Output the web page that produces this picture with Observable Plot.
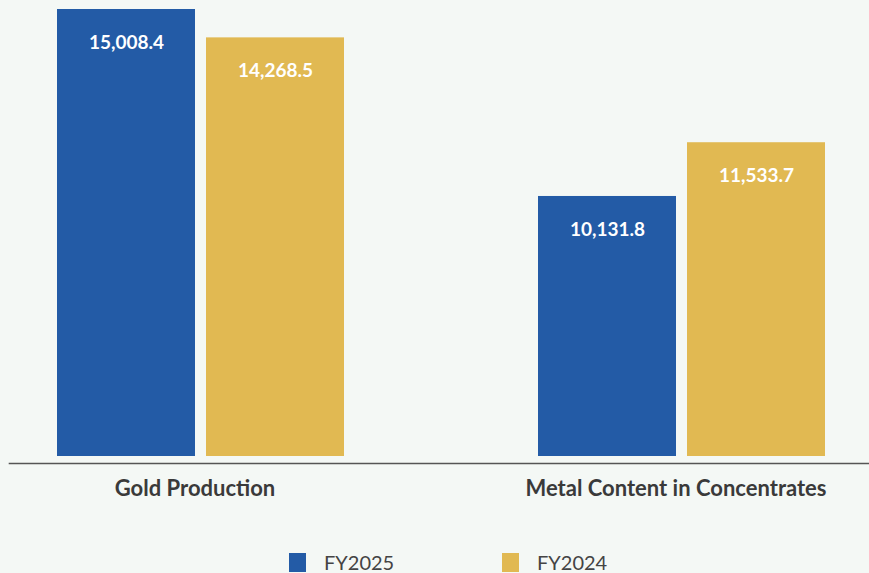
<!DOCTYPE html>
<html><head><meta charset="utf-8">
<script src="https://cdn.jsdelivr.net/npm/d3@7"></script>
<script src="https://cdn.jsdelivr.net/npm/@observablehq/plot@0.6"></script>
<style>
body{margin:0;background:#f4f8f5;font-family:Lato,sans-serif;overflow:hidden;}
#legend{display:flex;margin-left:289px;height:44px;align-items:center}
.item{display:flex;align-items:center;width:213px;font-size:20px;line-height:20px;color:#444}
.sw{width:17px;height:19px;margin-right:18px}
</style></head><body>
<div id="chart"></div>
<div id="legend"></div>
<script>
const categories = ["Gold Production", "Metal Content in Concentrates"];
const series = ["FY2025", "FY2024"];
const fy2025 = [15008.4, 10131.8];
const fy2024 = [14268.5, 11533.7];
const colors = ["#235ba6", "#e1b952"];
const yFloor = 3350;

const data = categories.flatMap((c, i) => [
  {category: c, year: series[0], value: fy2025[i]},
  {category: c, year: series[1], value: fy2024[i]}
]);
const fmt = d3.format(",.1f");

const plot = Plot.plot({
  width: 869, height: 540,
  marginTop: 9, marginBottom: 84, marginLeft: 9, marginRight: 0,
  style: {background: "transparent", fontFamily: "Lato, sans-serif"},
  fx: {domain: categories, paddingInner: 0.4, paddingOuter: 0.0927, align: 0.515, label: null, axis: null},
  x: {domain: series, paddingInner: 0.073, paddingOuter: 0, axis: null},
  y: {domain: [yFloor, d3.max([...fy2025, ...fy2024])], axis: null},
  color: {domain: series, range: colors},
  marks: [
    Plot.barY(data, {fx: "category", x: "year", y1: yFloor, y2: "value", fill: "year"}),
    Plot.text(data, {fx: "category", x: "year", y: "value", text: d => fmt(d.value), dy: 33,
      fill: "white", fontWeight: "bold", fontSize: 19}),
    Plot.axisFx({anchor: "bottom", tickSize: 0, tickPadding: 24, fontSize: 22, fontWeight: "bold",
      fill: "#3a3a3a", label: null, dx: -6}),
    Plot.frame({anchor: "bottom", facet: "super", dy: 7, insetLeft: -47, insetRight: -43,
      stroke: "#555", strokeWidth: 1.6})
  ]
});
document.getElementById("chart").append(plot);

const legend = document.getElementById("legend");
series.forEach((s, i) => {
  const item = document.createElement("div");
  item.className = "item";
  const sw = document.createElement("span");
  sw.className = "sw";
  sw.style.background = colors[i];
  const t = document.createElement("span");
  t.textContent = s;
  item.append(sw, t);
  legend.append(item);
});
</script>
</body></html>
